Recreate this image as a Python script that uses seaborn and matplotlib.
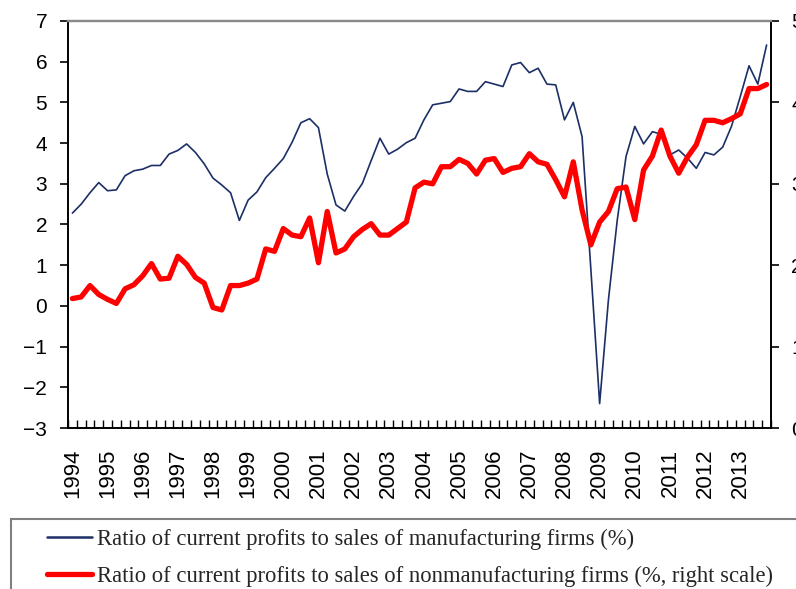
import numpy as np
import pandas as pd
import matplotlib
matplotlib.use("Agg")
import matplotlib.pyplot as plt
from matplotlib.patches import Rectangle
from matplotlib.ticker import FixedLocator
import seaborn as sns

# ---- data (quarterly, 1994Q1 - 2013Q4) ----
years = [str(y) for y in range(1994, 2014)]
quarters = [f"{y}Q{q}" for y in range(1994, 2014) for q in range(1, 5)]

manufacturing = [
    2.28, 2.50, 2.78, 3.03, 2.83, 2.85, 3.20, 3.32, 3.36, 3.45,
    3.45, 3.73, 3.82, 3.98, 3.77, 3.49, 3.14, 2.97, 2.78, 2.10,
    2.60, 2.80, 3.15, 3.38, 3.62, 4.02, 4.50, 4.60, 4.38, 3.24,
    2.48, 2.33, 2.69, 3.01, 3.57, 4.12, 3.73, 3.85, 4.01, 4.12,
    4.57, 4.94, 4.98, 5.02, 5.33, 5.27, 5.27, 5.51, 5.45, 5.39,
    5.92, 5.98, 5.73, 5.84, 5.45, 5.43, 4.57, 5.00, 4.16, 0.90,
    -2.40, 0.15, 2.10, 3.67, 4.41, 3.98, 4.28, 4.22, 3.71, 3.83,
    3.63, 3.38, 3.77, 3.71, 3.90, 4.41, 5.14, 5.90, 5.45, 6.41,
]
nonmanufacturing = [
    1.59, 1.61, 1.75, 1.64, 1.58, 1.53, 1.71, 1.76, 1.87, 2.02,
    1.83, 1.84, 2.11, 2.01, 1.85, 1.78, 1.48, 1.45, 1.75, 1.75,
    1.78, 1.83, 2.20, 2.17, 2.45, 2.37, 2.35, 2.58, 2.03, 2.66,
    2.15, 2.20, 2.35, 2.44, 2.51, 2.37, 2.37, 2.45, 2.53, 2.95,
    3.02, 3.00, 3.21, 3.21, 3.30, 3.25, 3.12, 3.29, 3.31, 3.14,
    3.19, 3.21, 3.37, 3.27, 3.24, 3.05, 2.84, 3.27, 2.68, 2.25,
    2.53, 2.66, 2.94, 2.96, 2.56, 3.17, 3.34, 3.66, 3.34, 3.13,
    3.33, 3.48, 3.78, 3.78, 3.75, 3.80, 3.86, 4.17, 4.17, 4.22,
]
left_ticks = list(range(-3, 8))
right_ticks = list(range(0, 6))

label_manu = "Ratio of current profits to sales of manufacturing firms (%)"
label_nonmanu = "Ratio of current profits to sales of nonmanufacturing firms (%, right scale)"

df = pd.DataFrame({
    "pos": np.arange(len(quarters)),
    "quarter": quarters,
    "manufacturing": manufacturing,
    "nonmanufacturing": nonmanufacturing,
})

sns.set_theme(style="white")
plt.rcParams["font.family"] = ["Liberation Sans", "DejaVu Sans"]

W, H = 796, 589
fig = plt.figure(figsize=(W / 100, H / 100), dpi=100)
fig.patch.set_facecolor("white")
ax = fig.add_axes([68 / W, 1 - 428 / H, 703 / W, 407 / H])
ax2 = ax.twinx()

blue = "#1c2f66"
red = "#ff0000"

sns.lineplot(data=df, x="pos", y="manufacturing", ax=ax, color=blue,
             linewidth=1.2, label=label_manu, legend=False)
sns.lineplot(data=df, x="pos", y="nonmanufacturing", ax=ax2, color=red,
             linewidth=3.8, label=label_nonmanu, legend=False)

n = len(quarters)
ax.set_xlim(-0.5, n - 0.5)
ax.set_ylim(left_ticks[0], left_ticks[-1])
ax2.set_ylim(right_ticks[0], right_ticks[-1])

# x axis: year labels at Q1, quarter boundary marks
ax.xaxis.set_major_locator(FixedLocator(list(range(0, n, 4))))
ax.set_xticklabels(years, rotation=90, fontsize=16)
ax.xaxis.set_minor_locator(FixedLocator(list(np.arange(-0.5, n, 1.0))))
ax.tick_params(axis="x", which="major", length=0, pad=15, colors="black")
ax.tick_params(axis="x", which="minor", direction="in", length=5.5,
               width=1.0, color="black", bottom=True)
ax.set_xlabel("")

ax.set_yticks(left_ticks)
ax.tick_params(axis="y", which="major", direction="out", length=6, width=1.2,
               labelsize=15, pad=9, color="black", left=True, labelcolor="black")
ax.set_ylabel("")

ax2.set_yticks(right_ticks)
ax2.tick_params(axis="y", which="major", direction="out", length=5.5, width=1.2,
                labelsize=15, pad=9, color="black", right=True, labelcolor="black")
ax2.set_ylabel("")

for a in (ax, ax2):
    for side in ("left", "right", "bottom"):
        a.spines[side].set_color("black")
        a.spines[side].set_linewidth(1.4)
    a.spines["top"].set_color("#8a8a8a")
    a.spines["top"].set_linewidth(1.6)
    a.set_facecolor("none")
ax2.spines["left"].set_visible(False)
ax.spines["right"].set_visible(False)
ax2.spines["bottom"].set_visible(False)

# legend box (extends past the figure edge like the reference)
fig.patches.append(Rectangle((11 / W, -0.2), 1.2, (1 - 519 / H) + 0.2,
                             transform=fig.transFigure, fill=False,
                             edgecolor="#7f7f7f", linewidth=1.5))
h1, l1 = ax.get_legend_handles_labels()
h2, l2 = ax2.get_legend_handles_labels()
leg = fig.legend(h1 + h2, l1 + l2, loc="upper left",
                 bbox_to_anchor=(47 / W, 1 - 529 / H),
                 frameon=False, borderpad=0, borderaxespad=0,
                 handlelength=2.0, handletextpad=0.22, labelspacing=0.68,
                 prop={"family": ["Liberation Serif"], "size": 16.3})
leg.legend_handles[0].set_linewidth(1.8)

fig.savefig("out.png", dpi=100)
